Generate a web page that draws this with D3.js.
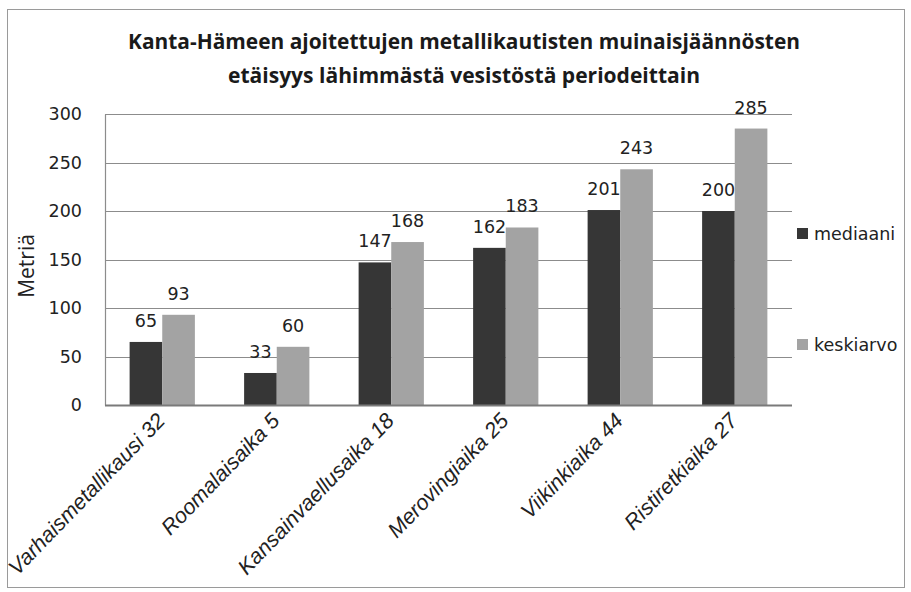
<!DOCTYPE html>
<html>
<head>
<meta charset="utf-8">
<script src="https://cdn.jsdelivr.net/npm/d3@7"></script>
<style>
  body { margin: 0; background: #fff; }
  svg { display: block; }
</style>
</head>
<body>
<div id="chart"></div>
<script>
const categories = ["Varhaismetallikausi 32", "Roomalaisaika 5", "Kansainvaellusaika 18",
  "Merovingiaika 25", "Viikinkiaika 44", "Ristiretkiaika 27"];
const seriesNames = ["mediaani", "keskiarvo"];
const mediaani = [65, 33, 147, 162, 201, 200];
const keskiarvo = [93, 60, 168, 183, 243, 285];
const yTicks = [0, 50, 100, 150, 200, 250, 300];
const titleLines = ["Kanta-Hämeen ajoitettujen metallikautisten muinaisjäännösten",
  "etäisyys lähimmästä vesistöstä periodeittain"];

const width = 911, height = 592;
const margin = { top: 114, right: 119, bottom: 187, left: 105 };
const colors = ["#363636", "#a3a3a3"];

const svg = d3.select("#chart").append("svg")
  .attr("width", width)
  .attr("height", height);

// outer frame
svg.append("rect")
  .attr("x", 7.5).attr("y", 9.5)
  .attr("width", 897).attr("height", 578)
  .attr("fill", "#fff")
  .attr("stroke", "#9a9a9a");

// title
svg.selectAll("text.title")
  .data(titleLines)
  .enter()
  .append("text")
  .attr("class", "title")
  .attr("x", 464)
  .attr("y", (d, i) => 49 + i * 34)
  .attr("text-anchor", "middle")
  .attr("font-family", "'Open Sans', sans-serif")
  .attr("font-weight", "bold")
  .attr("font-size", 21)
  .attr("textLength", (d, i) => i === 0 ? 672 : 472)
  .attr("lengthAdjust", "spacingAndGlyphs")
  .attr("fill", "#1a1a1a")
  .text(d => d);

const x0 = d3.scaleBand()
  .domain(categories)
  .range([margin.left, width - margin.right])
  .paddingInner(0.43)
  .paddingOuter(0.215);

const x1 = d3.scaleBand()
  .domain(seriesNames)
  .range([0, x0.bandwidth()]);

const y = d3.scaleLinear()
  .domain([0, 300])
  .range([height - margin.bottom, margin.top]);

// gridlines
svg.append("g")
  .selectAll("line")
  .data(yTicks.filter(d => d > 0))
  .enter()
  .append("line")
  .attr("x1", margin.left)
  .attr("x2", width - margin.right)
  .attr("y1", d => Math.round(y(d)) + 0.5)
  .attr("y2", d => Math.round(y(d)) + 0.5)
  .attr("stroke", "#8c8c8c")
  .attr("stroke-width", 1.2);

// y axis
const yAxis = d3.axisLeft(y).tickValues(yTicks).tickSize(0).tickPadding(23);
const yg = svg.append("g")
  .attr("transform", `translate(${margin.left},0)`)
  .call(yAxis);
yg.select(".domain").attr("stroke", "#8c8c8c").attr("stroke-width", 1.2);
yg.selectAll("text")
  .attr("font-family", "'DejaVu Sans', sans-serif")
  .attr("font-size", 17.5)
  .attr("fill", "#222");

// bars
const rows = categories.map((c, i) => ({ cat: c, values: [mediaani[i], keskiarvo[i]] }));
const groups = svg.append("g")
  .selectAll("g")
  .data(rows)
  .enter()
  .append("g")
  .attr("transform", d => `translate(${x0(d.cat)},0)`);

groups.selectAll("rect")
  .data(d => d.values.map((v, j) => ({ key: seriesNames[j], v })))
  .enter()
  .append("rect")
  .attr("x", d => x1(d.key))
  .attr("y", d => y(d.v))
  .attr("width", x1.bandwidth())
  .attr("height", d => y(0) - y(d.v))
  .attr("fill", (d, j) => colors[j]);

groups.selectAll("text")
  .data(d => d.values.map((v, j) => ({ key: seriesNames[j], v })))
  .enter()
  .append("text")
  .attr("x", d => x1(d.key) + x1.bandwidth() / 2)
  .attr("y", d => y(d.v) - 15)
  .attr("text-anchor", "middle")
  .attr("font-family", "'DejaVu Sans', sans-serif")
  .attr("font-size", 17.5)
  .attr("fill", "#222")
  .text(d => d.v);

// x axis baseline
svg.append("line")
  .attr("x1", margin.left)
  .attr("x2", width - margin.right)
  .attr("y1", y(0) + 0.5)
  .attr("y2", y(0) + 0.5)
  .attr("stroke", "#7a7a7a")
  .attr("stroke-width", 2);

// category labels
svg.append("g")
  .selectAll("text")
  .data(categories)
  .enter()
  .append("text")
  .attr("transform", d => `translate(${x0(d) + x0.bandwidth() / 2 + 4},${y(0) + 17}) rotate(-46)`)
  .attr("text-anchor", "end")
  .attr("font-family", "'Liberation Sans', sans-serif")
  .attr("font-style", "italic")
  .attr("font-size", 21.5)
  .attr("fill", "#222")
  .text(d => d);

// y axis title
svg.append("text")
  .attr("transform", "translate(34,266) rotate(-90)")
  .attr("text-anchor", "middle")
  .attr("font-family", "'Open Sans', sans-serif")
  .attr("font-size", 21)
  .attr("fill", "#222")
  .text("Metriä");

// legend
const legend = svg.append("g")
  .selectAll("g")
  .data(seriesNames)
  .enter()
  .append("g")
  .attr("transform", (d, i) => `translate(797,${234 + i * 111})`);

legend.append("rect")
  .attr("x", 0).attr("y", -6)
  .attr("width", 11).attr("height", 11)
  .attr("fill", (d, i) => colors[i]);

legend.append("text")
  .attr("x", 17)
  .attr("y", 0)
  .attr("dy", "0.35em")
  .attr("font-family", "'DejaVu Sans', sans-serif")
  .attr("font-size", 17.5)
  .attr("fill", "#222")
  .text(d => d);
</script>
</body>
</html>
